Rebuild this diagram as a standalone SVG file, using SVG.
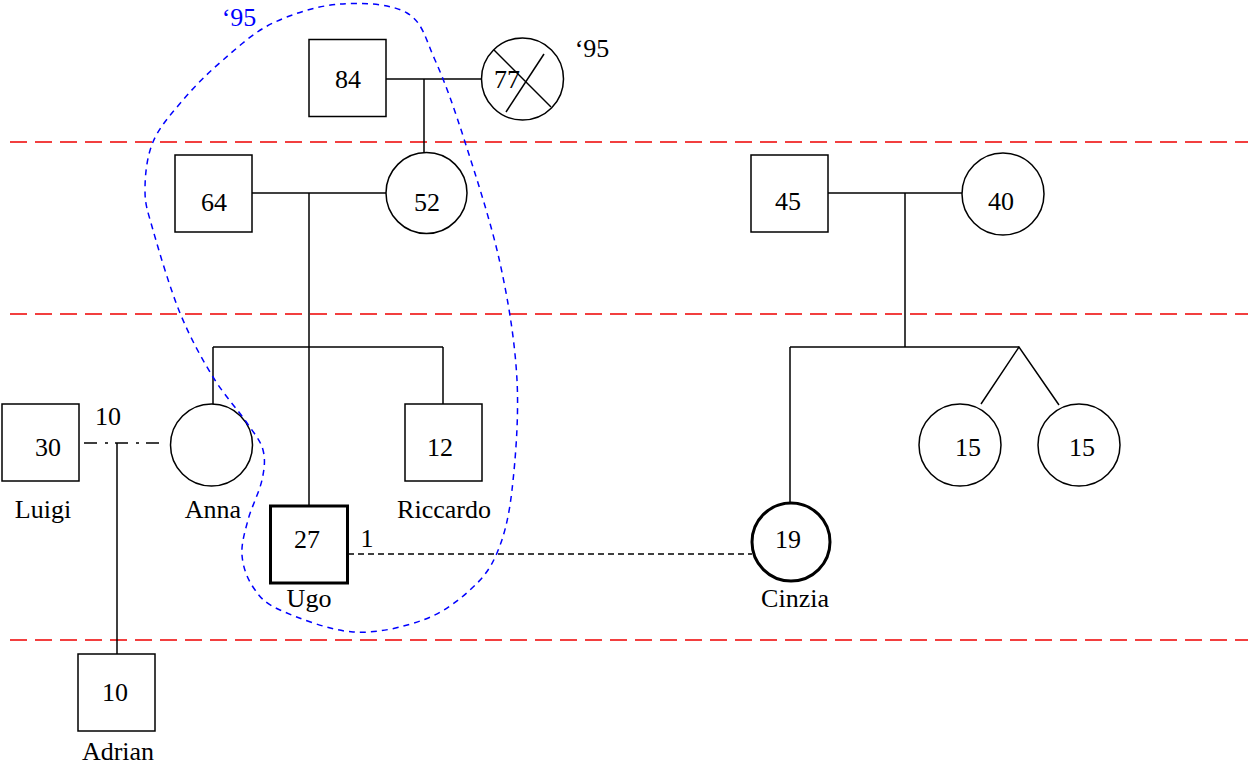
<svg xmlns="http://www.w3.org/2000/svg" width="1248" height="769" viewBox="0 0 1248 769">
<style>
.n{fill:#fff;stroke:#000;stroke-width:1.5}
.b{fill:#fff;stroke:#000;stroke-width:3}
.l{fill:none;stroke:#000;stroke-width:1.5}
.t{font-family:"Liberation Serif","Times New Roman",serif;font-size:26px;fill:#000;text-anchor:middle}
.gen{fill:none;stroke:#e00;stroke-width:1.5;stroke-dasharray:17 8}
</style>
<rect width="1248" height="769" fill="#fff"/>
<g id="generations">
<line class="gen" x1="10" y1="142" x2="1248" y2="142"/>
<line class="gen" x1="10" y1="314" x2="1248" y2="314"/>
<line class="gen" x1="10" y1="640" x2="1248" y2="640"/>
</g>
<g id="connectors">
<line class="l" x1="386" y1="79" x2="481.5" y2="79"/>
<line class="l" x1="424" y1="79" x2="424" y2="152.5"/>
<line class="l" x1="252" y1="193" x2="386" y2="193"/>
<line class="l" x1="309" y1="193" x2="309" y2="505"/>
<line class="l" x1="213" y1="347" x2="443" y2="347"/>
<line class="l" x1="213" y1="347" x2="213" y2="404"/>
<line class="l" x1="443" y1="347" x2="443" y2="404"/>
<line class="l" x1="84" y1="443" x2="162" y2="443" stroke-dasharray="13 8 3 7"/>
<line class="l" x1="117" y1="443" x2="117" y2="654"/>
<line class="l" x1="348" y1="554" x2="752" y2="554" stroke-dasharray="6 4"/>
<line class="l" x1="828" y1="193" x2="962" y2="193"/>
<line class="l" x1="905" y1="193" x2="905" y2="347"/>
<line class="l" x1="790" y1="347" x2="1019" y2="347"/>
<line class="l" x1="790" y1="347" x2="790" y2="503"/>
<polyline class="l" points="981,404 1019,347 1059,405"/>
</g>
<g id="n84"><rect class="n" x="309" y="39.5" width="77" height="77"/><text class="t" x="348" y="88">84</text></g>
<g id="n77"><circle class="n" cx="522.5" cy="79" r="41"/><text class="t" x="507" y="88">77</text>
<line class="l" x1="494" y1="50" x2="551" y2="107"/><line class="l" x1="544" y1="54" x2="506" y2="112"/>
<text class="t" x="592" y="57">‘95</text></g>
<g id="n64"><rect class="n" x="175" y="155" width="77" height="77"/><text class="t" x="214" y="211">64</text></g>
<g id="n52"><circle class="n" cx="426.5" cy="193" r="40.5"/><text class="t" x="427" y="211">52</text></g>
<g id="n45"><rect class="n" x="751" y="155" width="77" height="77"/><text class="t" x="788" y="210">45</text></g>
<g id="n40"><circle class="n" cx="1003" cy="194" r="41"/><text class="t" x="1001" y="210">40</text></g>
<g id="luigi"><rect class="n" x="2" y="404" width="77" height="77"/><text class="t" x="48" y="456">30</text><text class="t" x="43" y="518">Luigi</text></g>
<g id="marriage-label"><text class="t" x="108" y="425">10</text></g>
<g id="anna"><circle class="n" cx="211.5" cy="445" r="41"/><text class="t" x="213" y="518">Anna</text></g>
<g id="riccardo"><rect class="n" x="405" y="404" width="77" height="77"/><text class="t" x="440" y="456">12</text><text class="t" x="444" y="518">Riccardo</text></g>
<g id="ugo"><rect class="b" x="270.5" y="506" width="77" height="77"/><text class="t" x="307" y="548">27</text><text class="t" x="309" y="607">Ugo</text></g>
<g id="union-label"><text class="t" x="367" y="547">1</text></g>
<g id="cinzia"><circle class="b" cx="791" cy="542" r="39"/><text class="t" x="788" y="548">19</text><text class="t" x="795" y="607">Cinzia</text></g>
<g id="twin1"><circle class="n" cx="960" cy="445" r="41"/><text class="t" x="968" y="456">15</text></g>
<g id="twin2"><circle class="n" cx="1079" cy="445" r="41"/><text class="t" x="1082" y="456">15</text></g>
<g id="adrian"><rect class="n" x="78" y="654" width="77" height="77"/><text class="t" x="115" y="701">10</text><text class="t" x="118" y="760">Adrian</text></g>
<g id="household">
<path fill="none" stroke="#00f" stroke-width="1.5" stroke-dasharray="6 5" d="M340,4 C362.3,2.3 391.2,3.7 407,13 C422.8,22.3 425.3,38.5 435,60 C444.7,81.5 454.2,108.2 465,142 C475.8,175.8 491.3,223.3 500,263 C508.7,302.7 515,342.2 517,380 C519,417.8 515.3,461.2 512,490 C508.7,518.8 504,536.3 497,553 C490,569.7 482.3,578.8 470,590 C457.7,601.2 442.5,613 423,620 C403.5,627 376.8,633.7 353,632 C329.2,630.3 296.7,617.5 280,610 C263.3,602.5 259.3,596.2 253,587 C246.7,577.8 242.8,566.2 242,555 C241.2,543.8 244.7,532.5 248,520 C251.3,507.5 259.5,491.7 262,480 C264.5,468.3 265.5,459.5 263,450 C260.5,440.5 255.3,435.2 247,423 C238.7,410.8 224.2,395.3 213,377 C201.8,358.7 190,337.5 180,313 C170,288.5 158.8,250.5 153,230 C147.2,209.5 145,204.7 145,190 C145,175.3 146.7,157 153,142 C159.3,127 171.3,113.7 183,100 C194.7,86.3 208,72.8 223,60 C238,47.2 253.5,32.3 273,23 C292.5,13.7 317.7,5.7 340,4 Z"/>
<text class="t" x="239" y="26" style="fill:#00f">‘95</text>
</g>
</svg>
